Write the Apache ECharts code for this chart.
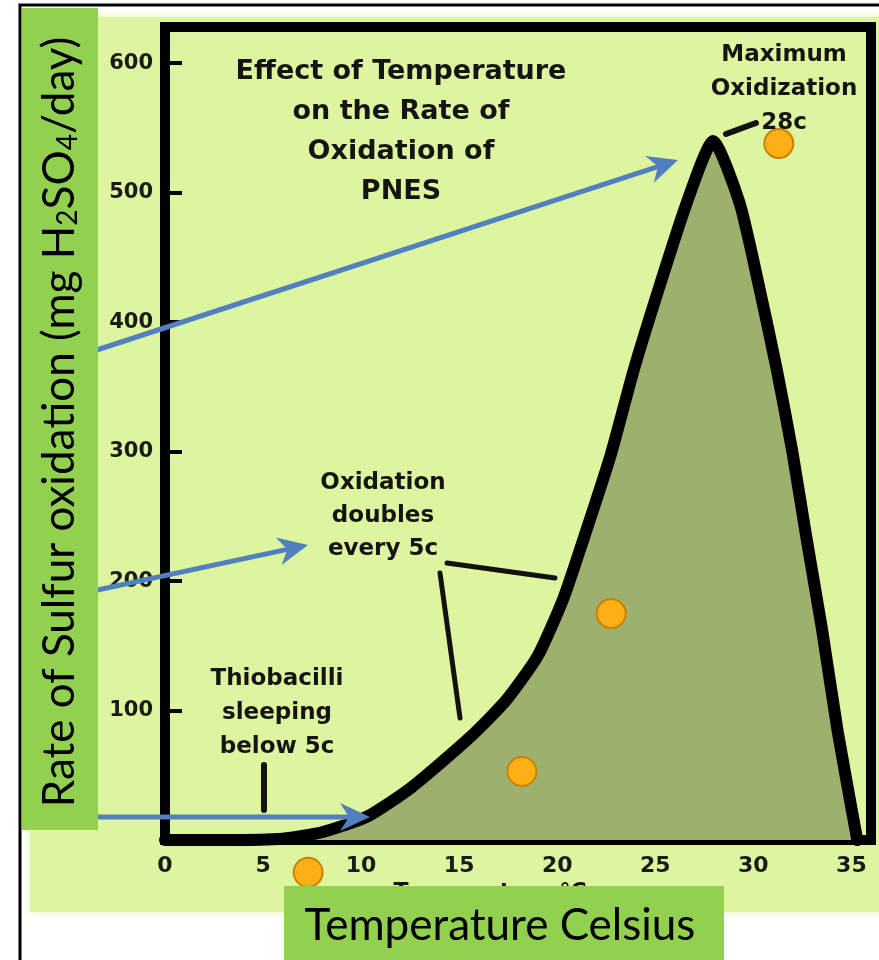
<!DOCTYPE html>
<html><head><meta charset="utf-8">
<script src="https://cdn.jsdelivr.net/npm/echarts@6/dist/echarts.min.js"></script>
<style>html,body{margin:0;padding:0;background:#fff}#c{width:879px;height:960px}</style>
</head><body><div id="c"></div>
<script>
// Curve (temperature °C -> rate)
const curveTemp = [0, 3, 6, 8, 10.3, 12.6, 15.6, 17.4, 19.0, 20.3, 21.2, 22.7, 23.9, 25.2, 26.6, 27.95, 29.3, 30.3, 31.2, 32.0, 32.7, 33.5, 34.3, 35.3];
const curveRate = [0, 0, 1, 6, 18, 41, 80, 108, 142, 186, 226, 296, 363, 427, 492, 540, 492, 427, 363, 299, 234, 163, 84, 0];
// Orange observation points
const pointTemp = [7.3, 18.2, 22.75, 31.3];
const pointRate = [-25, 53, 175, 538];
// Tick labels
const xTickLabels = [0, 5, 10, 15, 20, 25, 30, 35];
const yTickLabels = [100, 200, 300, 400, 500, 600];

const chart = echarts.init(document.getElementById('c'), null, {renderer: 'canvas'});

const ARROW = '#5080C0';
function arrow(x1, y1, x2, y2) {
  const dx = x2 - x1, dy = y2 - y1, len = Math.hypot(dx, dy);
  const ux = dx / len, uy = dy / len, px = -uy, py = ux;
  const L = 30, W = 28, N = 9;
  const bx = x2 - ux * L, by = y2 - uy * L;
  const nx = x2 - ux * (L - N), ny = y2 - uy * (L - N);
  return [
    {type: 'line', z: 50, shape: {x1, y1, x2: nx, y2: ny}, style: {stroke: ARROW, lineWidth: 5}},
    {type: 'polygon', z: 50, shape: {points: [[x2, y2], [bx + px * W / 2, by + py * W / 2], [nx, ny], [bx - px * W / 2, by - py * W / 2]]}, style: {fill: ARROW}}
  ];
}
function txt(x, y, text, size, extra) {
  return {
    type: 'text', x, y, z: 40,
    style: Object.assign({
      text, fill: '#141414', fontFamily: 'DejaVu Sans', fontWeight: 'bold', fontSize: size,
      align: 'center', textAlign: 'center', verticalAlign: 'top', textVerticalAlign: 'top'
    }, extra || {})
  };
}
function seg(x1, y1, x2, y2, w) {
  return {type: 'line', z: 40, shape: {x1, y1, x2, y2}, style: {stroke: '#111', lineWidth: w, lineCap: 'round'}};
}

const graphics = [
  {type: 'rect', z: -10, shape: {x: 30, y: 17, width: 860, height: 895}, style: {fill: '#DCF59E', shadowBlur: 8, shadowColor: '#E4F7B5'}},
  txt(401, 52, 'Effect of Temperature\non the Rate of\nOxidation of\nPNES', 27, {lineHeight: 40}),
  txt(784, 38, 'Maximum\nOxidization\n28c', 23, {lineHeight: 34}),
  txt(383, 467, 'Oxidation\ndoubles\nevery 5c', 23, {lineHeight: 33}),
  txt(277, 662, 'Thiobacilli\nsleeping\nbelow 5c', 23, {lineHeight: 34}),
  txt(490, 881, 'Temperature °C', 22, {}),
  seg(726, 134, 756, 123, 6),
  seg(447, 563, 555, 578, 5),
  seg(440, 573, 460, 718, 5),
  seg(264, 765, 264, 810, 6),
  ...arrow(60, 362, 678, 160),
  ...arrow(60, 598, 308, 545),
  ...arrow(60, 817, 370, 817),
  {type: 'rect', z: 100, shape: {x: 22, y: 8, width: 76, height: 822}, style: {fill: '#92D050'}},
  {type: 'rect', z: 100, shape: {x: 284, y: 886, width: 440, height: 80}, style: {fill: '#92D050'}},
  {type: 'text', z: 101, x: 60, y: 422, rotation: Math.PI / 2,
    style: {text: 'Rate of Sulfur oxidation (mg H{sub|2}SO{sub|4}/day)', fill: '#000', fontFamily: 'Lato', fontSize: 44,
      align: 'center', textAlign: 'center', verticalAlign: 'middle', textVerticalAlign: 'middle', lineHeight: 44,
      rich: {sub: {fontFamily: 'Lato', fontSize: 28, lineHeight: 26, verticalAlign: 'bottom', fill: '#000', color: '#000'}}}},
  {type: 'text', z: 101, x: 500, y: 926,
    style: {text: 'Temperature Celsius', fill: '#000', fontFamily: 'Lato', fontSize: 44,
      align: 'center', textAlign: 'center', verticalAlign: 'middle', textVerticalAlign: 'middle'}},
  {type: 'rect', z: 110, shape: {x: 20, y: 5, width: 900, height: 1000}, style: {fill: 'none', stroke: '#000', lineWidth: 3}}
];

chart.setOption({
  backgroundColor: '#ffffff',
  animation: false,
  grid: {left: 165, right: 8, top: 27, bottom: 120, show: true, borderColor: '#000', borderWidth: 10,
    backgroundColor: '#DCF59E', containLabel: false, outerBoundsMode: 'none'},
  xAxis: {
    type: 'value', min: 0, max: 36, interval: 5,
    axisLine: {show: false}, axisTick: {show: false}, splitLine: {show: false},
    axisLabel: {margin: 15, color: '#1a1a1a', fontFamily: 'DejaVu Sans', fontWeight: 'bold', fontSize: 22,
      formatter: v => xTickLabels.includes(v) ? String(v) : ''}
  },
  yAxis: {
    type: 'value', min: 0, max: 628, interval: 100,
    axisLine: {show: false}, splitLine: {show: false},
    axisTick: {show: true, inside: true, length: 17, lineStyle: {color: '#000', width: 4}},
    axisLabel: {margin: 12, color: '#1a1a1a', fontFamily: 'DejaVu Sans', fontWeight: 'bold', fontSize: 21,
      formatter: v => yTickLabels.includes(v) ? String(v) : ''}
  },
  series: [
    {type: 'line', data: curveTemp.map((t, i) => [t, curveRate[i]]), smooth: 0.2, showSymbol: false, symbol: 'none',
      lineStyle: {color: '#000', width: 12, join: 'round', cap: 'round'},
      areaStyle: {color: '#9DB06E', opacity: 1}, z: 3, silent: true},
    {type: 'scatter', data: pointTemp.map((t, i) => [t, pointRate[i]]), symbolSize: 29, clip: false, z: 6,
      itemStyle: {color: '#FCB016', borderColor: '#C98208', borderWidth: 2, opacity: 1}}
  ],
  graphic: {elements: graphics}
});
</script></body></html>
